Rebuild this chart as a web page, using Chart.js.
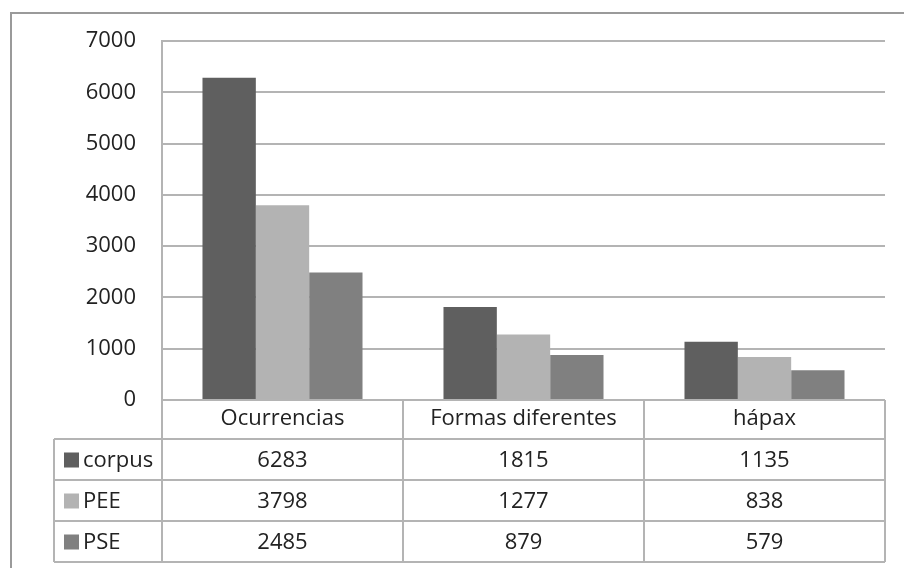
<!DOCTYPE html>
<html>
<head>
<meta charset="utf-8">
<script src="https://cdn.jsdelivr.net/npm/chart.js@4/dist/chart.umd.min.js"></script>
<style>
  html,body{margin:0;padding:0;background:#fff;}
  #wrap{width:904px;height:568px;position:relative;}
</style>
</head>
<body>
<div id="wrap"><canvas id="c" width="904" height="568"></canvas></div>
<script>
const categories = ["Ocurrencias", "Formas diferentes", "hápax"];
const seriesNames = ["corpus", "PEE", "PSE"];
const corpus = [6283, 1815, 1135];
const pee = [3798, 1277, 838];
const pse = [2485, 879, 579];
const yTicks = [0, 1000, 2000, 3000, 4000, 5000, 6000, 7000];

const colors = ["#5f5f5f", "#b3b3b3", "#808080"];
const lineColor = "#b4b4b4";
const textColor = "#222222";
const FONT = "'Open Sans', 'DejaVu Sans', sans-serif";
const FS = 22;

const seriesValues = [corpus, pee, pse];

const tablePlugin = {
  id: 'dataTable',
  beforeDraw(chart) {
    const ctx = chart.ctx;
    ctx.save();
    ctx.fillStyle = '#fff';
    ctx.fillRect(0, 0, chart.width, chart.height);
    ctx.strokeStyle = '#9a9a9a';
    ctx.lineWidth = 2;
    ctx.strokeRect(11, 13, chart.width + 20, chart.height + 20);
    ctx.restore();
  },
  afterDraw(chart) {
    const ctx = chart.ctx;
    const xs = chart.scales.x, ys = chart.scales.y;
    const left = xs.left, right = xs.right;
    const n = categories.length;
    const colW = (right - left) / n;
    const headerTop = ys.bottom;
    const headerBottom = headerTop + 39;
    const rowH = 41;
    const legendLeft = left - 108;
    const tableBottom = headerBottom + rowH * seriesNames.length;
    ctx.save();
    ctx.strokeStyle = lineColor;
    ctx.lineWidth = 2;
    ctx.beginPath();
    ctx.moveTo(left, headerTop); ctx.lineTo(right, headerTop);
    for (let r = 0; r <= seriesNames.length; r++) {
      const yy = headerBottom + r * rowH;
      ctx.moveTo(legendLeft, yy); ctx.lineTo(right, yy);
    }
    for (let i = 0; i <= n; i++) {
      const xx = left + i * colW;
      ctx.moveTo(xx, headerTop); ctx.lineTo(xx, tableBottom);
    }
    ctx.moveTo(legendLeft, headerBottom); ctx.lineTo(legendLeft, tableBottom);
    ctx.stroke();

    ctx.font = FS + "px " + FONT;
    ctx.textBaseline = 'middle';
    for (let r = 0; r < seriesNames.length; r++) {
      const cy = headerBottom + r * rowH + rowH / 2;
      ctx.fillStyle = colors[r];
      ctx.fillRect(legendLeft + 10, cy - 7, 15, 15);
      ctx.fillStyle = textColor;
      ctx.textAlign = 'left';
      ctx.fillText(seriesNames[r], legendLeft + 29, cy + 1);
      ctx.textAlign = 'center';
      for (let i = 0; i < n; i++) {
        const cx = xs.getPixelForValue(i);
        ctx.fillText(String(seriesValues[r][i]), cx, cy + 1);
      }
    }
    ctx.restore();
  }
};

new Chart(document.getElementById('c'), {
  type: 'bar',
  data: {
    labels: categories,
    datasets: seriesNames.map((name, i) => ({
      label: name,
      data: seriesValues[i],
      backgroundColor: colors[i],
      borderWidth: 0,
      categoryPercentage: 0.664,
      barPercentage: 1.0
    }))
  },
  options: {
    responsive: false,
    animation: false,
    devicePixelRatio: 1,
    layout: { padding: { left: 0, top: 41, right: 19, bottom: 0 } },
    plugins: { legend: { display: false }, tooltip: { enabled: false } },
    scales: {
      x: {
        grid: { display: false, drawTicks: false },
        border: { display: false },
        ticks: { color: textColor, font: { family: FONT, size: FS }, padding: 6, maxRotation: 0, autoSkip: false },
        afterFit(scale) { scale.height = 568 - 400; }
      },
      y: {
        min: 0, max: 7000,
        afterBuildTicks(scale) { scale.ticks = yTicks.map(v => ({ value: v })); },
        grid: { color: lineColor, lineWidth: 2, drawTicks: false },
        border: { display: true, color: lineColor, width: 2 },
        ticks: {
          color: textColor, font: { family: FONT, size: FS }, padding: 26,
          callback: (v) => String(v)
        },
        afterFit(scale) { scale.width = 162; }
      }
    }
  },
  plugins: [tablePlugin]
});
</script>
</body>
</html>
